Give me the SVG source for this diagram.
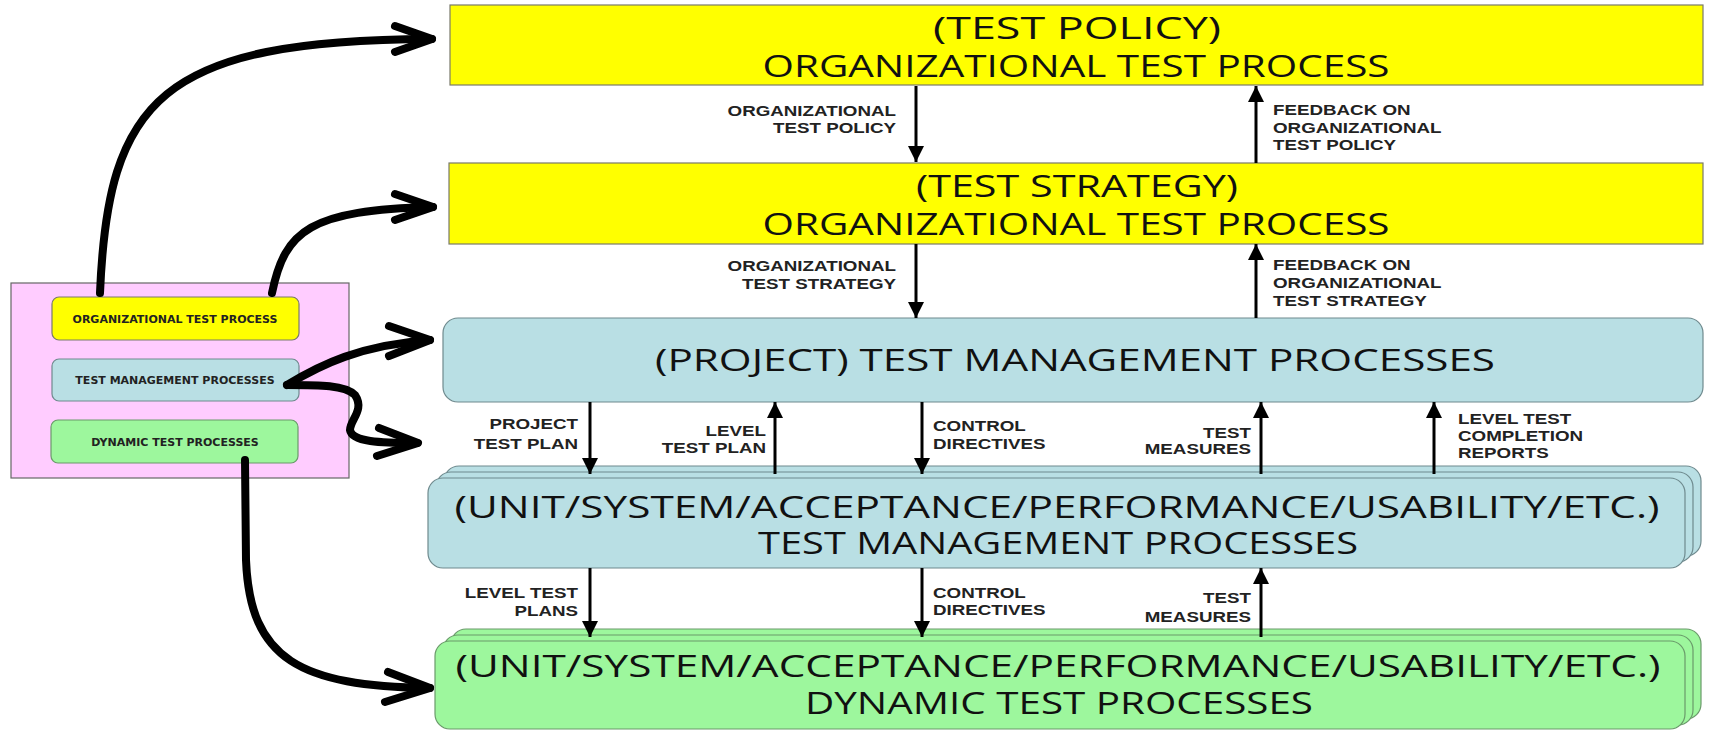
<svg xmlns="http://www.w3.org/2000/svg" width="1709" height="730" viewBox="0 0 1709 730">
<style>
.yel{fill:#FFFF00;stroke:#7a7a6a;stroke-width:1.2}
.blu{fill:#B9DFE4;stroke:#6f8a8e;stroke-width:1.2}
.grn{fill:#9DF79D;stroke:#6a9a6a;stroke-width:1.2}
.pink{fill:#FFCCFF;stroke:#666;stroke-width:1.2}
.big{font-family:"Open Sans","Noto Sans",sans-serif;font-size:31px;fill:#111;text-anchor:middle}
.small{font-family:"DejaVu Sans","Liberation Sans",sans-serif;font-size:11px;font-weight:bold;fill:#222;text-anchor:middle}
.lbl{font-family:"Liberation Sans",Arial,sans-serif;font-size:14px;font-weight:bold;fill:#222}
.r{text-anchor:end}
.conn{stroke:#000;stroke-width:3;fill:none}
.thick{stroke:#000;stroke-width:8;fill:none;stroke-linecap:round;stroke-linejoin:round}
</style>
<defs>
<marker id="ah" markerUnits="userSpaceOnUse" markerWidth="16" markerHeight="18" refX="16" refY="8" orient="auto">
<path d="M0,0 L16,8 L0,16 Z" fill="#000"/>
</marker>
</defs>

<g id="legend">
<rect class="pink" x="11" y="283" width="338" height="195"/>
<g id="legend-org"><rect class="yel" x="52" y="297" width="247" height="43" rx="7"/><text class="small" x="175" y="323">ORGANIZATIONAL TEST PROCESS</text></g>
<g id="legend-tm"><rect class="blu" x="52" y="359" width="247" height="42" rx="7"/><text class="small" x="175" y="384">TEST MANAGEMENT PROCESSES</text></g>
<g id="legend-dyn"><rect class="grn" x="51" y="420" width="247" height="43" rx="7"/><text class="small" x="175" y="446">DYNAMIC TEST PROCESSES</text></g>
</g>

<g id="policy">
<rect class="yel" x="450" y="5" width="1253" height="80"/>
<text class="big" x="1077" y="39" textLength="288" lengthAdjust="spacingAndGlyphs">(TEST POLICY)</text>
<text class="big" x="1076" y="77" textLength="627" lengthAdjust="spacingAndGlyphs">ORGANIZATIONAL TEST PROCESS</text>
</g>
<g id="strategy">
<rect class="yel" x="449" y="163" width="1254" height="81"/>
<text class="big" x="1077" y="197" textLength="322" lengthAdjust="spacingAndGlyphs">(TEST STRATEGY)</text>
<text class="big" x="1076" y="235" textLength="627" lengthAdjust="spacingAndGlyphs">ORGANIZATIONAL TEST PROCESS</text>
</g>
<g id="project">
<rect class="blu" x="443" y="318" width="1260" height="84" rx="15"/>
<text class="big" x="1075" y="371" textLength="840" lengthAdjust="spacingAndGlyphs">(PROJECT) TEST MANAGEMENT PROCESSES</text>
</g>
<g id="level">
<rect class="blu" x="444" y="466" width="1257" height="90" rx="15"/>
<rect class="blu" x="436" y="472" width="1257" height="90" rx="15"/>
<rect class="blu" x="428" y="478" width="1257" height="90" rx="15"/>
<text class="big" x="1057" y="518" textLength="1205" lengthAdjust="spacingAndGlyphs">(UNIT/SYSTEM/ACCEPTANCE/PERFORMANCE/USABILITY/ETC.)</text>
<text class="big" x="1058" y="554" textLength="600" lengthAdjust="spacingAndGlyphs">TEST MANAGEMENT PROCESSES</text>
</g>
<g id="dynamic">
<rect class="grn" x="451" y="629" width="1250" height="90" rx="15"/>
<rect class="grn" x="443" y="635" width="1250" height="90" rx="15"/>
<rect class="grn" x="435" y="641" width="1250" height="88" rx="15"/>
<text class="big" x="1058" y="677" textLength="1205" lengthAdjust="spacingAndGlyphs">(UNIT/SYSTEM/ACCEPTANCE/PERFORMANCE/USABILITY/ETC.)</text>
<text class="big" x="1059" y="714" textLength="508" lengthAdjust="spacingAndGlyphs">DYNAMIC TEST PROCESSES</text>
</g>

<g id="connectors">
<path class="conn" d="M916,86 V162" marker-end="url(#ah)"/>
<path class="conn" d="M1256,163 V86" marker-end="url(#ah)"/>
<path class="conn" d="M916,244 V318" marker-end="url(#ah)"/>
<path class="conn" d="M1256,318 V244" marker-end="url(#ah)"/>
<path class="conn" d="M590,402 V474" marker-end="url(#ah)"/>
<path class="conn" d="M775,474 V402" marker-end="url(#ah)"/>
<path class="conn" d="M922,402 V474" marker-end="url(#ah)"/>
<path class="conn" d="M1261,474 V402" marker-end="url(#ah)"/>
<path class="conn" d="M1434,474 V402" marker-end="url(#ah)"/>
<path class="conn" d="M590,568 V637" marker-end="url(#ah)"/>
<path class="conn" d="M922,568 V637" marker-end="url(#ah)"/>
<path class="conn" d="M1261,637 V568" marker-end="url(#ah)"/>

<path class="thick" d="M100,293 C108,100 160,40 432,39"/>
<path class="thick" d="M395,26 L432,39 L395,52"/>
<path class="thick" d="M272,293 C285,230 310,210 433,207"/>
<path class="thick" d="M395,194 L433,207 L395,220"/>
<path class="thick" d="M287,385 C320,365 360,345 430,340"/>
<path class="thick" d="M389,326 L430,340 L389,356"/>
<path class="thick" d="M287,385 C320,385 345,385 355,395 C365,410 350,420 350,430 C352,442 380,443 417,443"/>
<path class="thick" d="M379,428 L418,443 L377,456"/>
<path class="thick" d="M245,460 L246,560 C250,660 300,686 430,688"/>
<path class="thick" d="M388,672 L430,688 L385,702"/>
</g>

<g id="labels">
<g transform="translate(896,0) scale(1.34,1)">
<text class="lbl r" x="0" y="116">ORGANIZATIONAL</text>
<text class="lbl r" x="0" y="133">TEST POLICY</text>
<text class="lbl r" x="0" y="271">ORGANIZATIONAL</text>
<text class="lbl r" x="0" y="289">TEST STRATEGY</text>
</g>
<g transform="translate(1273,0) scale(1.34,1)">
<text class="lbl" x="0" y="115">FEEDBACK ON</text>
<text class="lbl" x="0" y="133">ORGANIZATIONAL</text>
<text class="lbl" x="0" y="150">TEST POLICY</text>
<text class="lbl" x="0" y="270">FEEDBACK ON</text>
<text class="lbl" x="0" y="288">ORGANIZATIONAL</text>
<text class="lbl" x="0" y="306">TEST STRATEGY</text>
</g>
<g transform="translate(578,0) scale(1.34,1)">
<text class="lbl r" x="0" y="429">PROJECT</text>
<text class="lbl r" x="0" y="449">TEST PLAN</text>
<text class="lbl r" x="0" y="598">LEVEL TEST</text>
<text class="lbl r" x="0" y="616">PLANS</text>
</g>
<g transform="translate(766,0) scale(1.34,1)">
<text class="lbl r" x="0" y="436">LEVEL</text>
<text class="lbl r" x="0" y="453">TEST PLAN</text>
</g>
<g transform="translate(933,0) scale(1.34,1)">
<text class="lbl" x="0" y="431">CONTROL</text>
<text class="lbl" x="0" y="449">DIRECTIVES</text>
<text class="lbl" x="0" y="598">CONTROL</text>
<text class="lbl" x="0" y="615">DIRECTIVES</text>
</g>
<g transform="translate(1251,0) scale(1.34,1)">
<text class="lbl r" x="0" y="438">TEST</text>
<text class="lbl r" x="0" y="454">MEASURES</text>
<text class="lbl r" x="0" y="603">TEST</text>
<text class="lbl r" x="0" y="622">MEASURES</text>
</g>
<g transform="translate(1458,0) scale(1.34,1)">
<text class="lbl" x="0" y="424">LEVEL TEST</text>
<text class="lbl" x="0" y="441">COMPLETION</text>
<text class="lbl" x="0" y="458">REPORTS</text>
</g>
</g>
</svg>
